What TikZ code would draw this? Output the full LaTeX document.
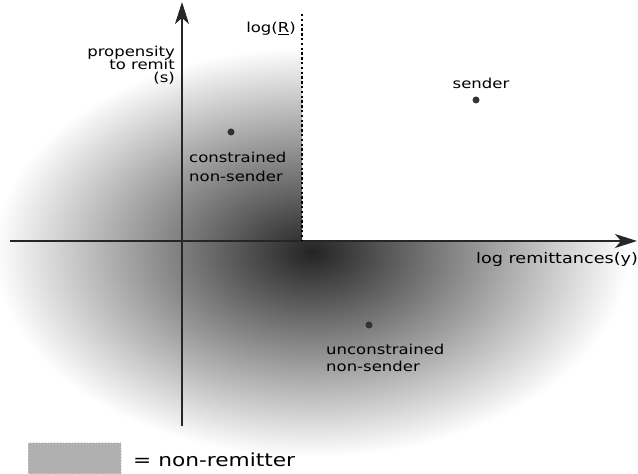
\documentclass[tikz,border=0pt]{standalone}
\usepackage{fontspec}
\setmainfont{DejaVu Sans}
\usetikzlibrary{arrows.meta}

% fade of the non-remitter region, dark in the middle
\pgfdeclareradialshading{remitfade}{\pgfpoint{0bp}{0bp}}{%
  color(0bp)=(black!86); color(25bp)=(white); color(50bp)=(white)}

\begin{document}
\begin{tikzpicture}[
    x=1pt, y=1pt,
    every node/.style={font=\fontsize{16.5}{16}\selectfont, inner sep=0pt,
                       yscale=0.83, transform shape},
    >={Stealth[length=22pt, width=14pt, inset=6pt]},
    axis/.style={line width=1.8pt, black!85},
    dot/.style={fill=black!80},
]
\useasboundingbox (0,0) rectangle (638,474);

% === Region sizes ===
\def\logR{302}
\def\xaxis{233}
\def\yaxis{182}

% === Non-remitter shading (upper right quadrant cut away) ===
\begin{scope}
  \clip (0,0) -- (0,474) -- (\logR,474) -- (\logR,\xaxis) -- (638,\xaxis) -- (638,0) -- cycle;
  \shade[shading=remitfade] (312,222) ellipse [x radius=318, y radius=205];
\end{scope}

% === Axes ===
\coordinate (xstart) at (10,\xaxis);
\coordinate (xend)   at (637,\xaxis);
\coordinate (ystart) at (\yaxis,48);
\coordinate (yend)   at (\yaxis,472);
\draw[axis, ->] (xstart) -- (xend);
\draw[axis, ->] (ystart) -- (yend);

% threshold log(R)
\coordinate (rtop) at (\logR,460);
\coordinate (rbot) at (\logR,\xaxis);
\draw[line width=2.6pt, dash pattern=on 2.4pt off 2.4pt] (rtop) -- (rbot);

% axis labels (base = last line)
\node[anchor=base east, align=right] (ylabel) at (175,391) {propensity\\to remit\\(s)};
\node[anchor=base east] (rlabel) at (296,441) {log(\underline{R})};
\node[anchor=base west, font=\fontsize{17.6}{18}\selectfont] (xlabel) at (476,210) {log remittances(y)};

% === Groups ===
\coordinate (sdot)  at (476,374);
\coordinate (csdot) at (231,342);
\coordinate (usdot) at (369,149);
\fill[dot] (sdot)  circle (3.5);
\fill[dot] (csdot) circle (3.5);
\fill[dot] (usdot) circle (3.5);

\node[anchor=base] (sender) at (481,385) {sender};
\node[anchor=base west, align=left, font=\fontsize{16.5}{23}\selectfont]
    (csender) at (189,292) {constrained\\non-sender};
\node[anchor=base west, align=left, font=\fontsize{16.5}{21}\selectfont]
    (usender) at (326,102) {unconstrained\\non-sender};

% === Legend ===
\fill[black!31, draw=black!18, line width=1pt, dotted] (28,0) rectangle (121,31);
\node[anchor=base west, font=\fontsize{21.7}{22}\selectfont] (legend) at (133,7) {= non-remitter};

\end{tikzpicture}
\end{document}
